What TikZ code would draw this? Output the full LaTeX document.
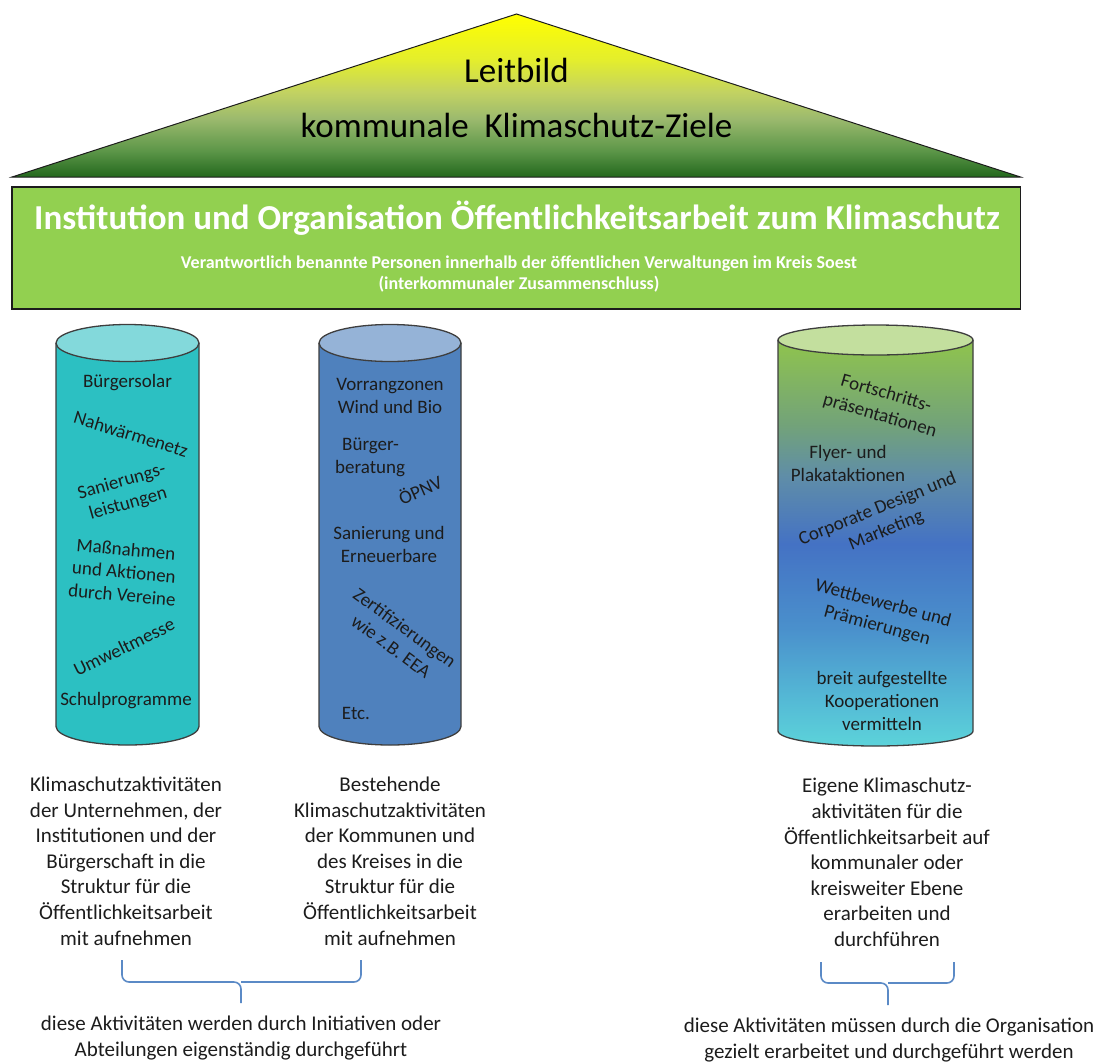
\documentclass[tikz,border=0pt]{standalone}
\usepackage{fontspec}
\setmainfont{Carlito}

% palette
\definecolor{roofTop}{HTML}{FFFF00}
\definecolor{roofA}{HTML}{E4EE2C}
\definecolor{roofB}{HTML}{C2D262}
\definecolor{roofC}{HTML}{9CBA6E}
\definecolor{roofD}{HTML}{5C9648}
\definecolor{roofE}{HTML}{23681D}
\definecolor{bannerGreen}{HTML}{92D050}
\definecolor{tealBody}{HTML}{2CC0C2}
\definecolor{tealTop}{HTML}{83D9DB}
\definecolor{blueBody}{HTML}{4F81BD}
\definecolor{blueTop}{HTML}{95B3D7}
\definecolor{mixTop}{HTML}{C3DF9E}
\definecolor{mixA}{HTML}{8CC052}
\definecolor{mixB}{HTML}{72A27A}
\definecolor{mixC}{HTML}{5F8DA8}
\definecolor{mixD}{HTML}{4472C4}
\definecolor{mixE}{HTML}{4A90CC}
\definecolor{mixF}{HTML}{55BCD6}
\definecolor{mixG}{HTML}{5CD3DA}
\definecolor{braceBlue}{HTML}{5B8AC6}
\definecolor{ink}{HTML}{1C1C1C}

% roof: dark green at the eaves, yellow at the ridge
\pgfdeclareverticalshading{roofshade}{100bp}{color(0bp)=(roofE); color(25bp)=(roofE);
  color(33bp)=(roofD); color(43bp)=(roofC); color(51bp)=(roofB); color(61bp)=(roofA);
  color(75bp)=(roofTop); color(100bp)=(roofTop)}
% third column: green - blue - cyan
\pgfdeclareverticalshading{mixshade}{100bp}{color(0bp)=(mixG); color(25bp)=(mixG);
  color(30bp)=(mixF); color(39bp)=(mixE); color(49bp)=(mixD); color(57bp)=(mixC);
  color(63bp)=(mixB); color(72bp)=(mixA); color(100bp)=(mixA)}

\tikzset{
  roofText/.style={font=\fontsize{35}{42}\selectfont, text=black, inner sep=0pt, anchor=base},
  colText/.style={font=\fontsize{19}{23}\selectfont, text=ink, align=center, inner sep=0pt},
  noteText/.style={font=\fontsize{21}{25.6}\selectfont, text=ink, align=center, inner sep=0pt},
  cylEdge/.style={draw=ink!85, line width=1.3pt},
  brace/.style={draw=braceBlue, line width=1.6pt, rounded corners=7pt},
}

\begin{document}
\begin{tikzpicture}[x=1pt,y=-1pt]
\useasboundingbox (0,0) rectangle (1100,1061);

% ---------- roof ----------
\coordinate (apex) at (516.5,14);
\coordinate (eaveL) at (12,177);
\coordinate (eaveR) at (1020.5,177);
\shade[shading=roofshade] (apex) -- (eaveR) -- (eaveL) -- cycle;
\draw[ink, line width=1pt, line join=miter] (apex) -- (eaveR) -- (eaveL) -- cycle;
\node (leitbild) [roofText] at (516.5,82) {Leitbild};
\node (ziele) [roofText] at (516.5,137) {kommunale\ \ Klimaschutz-Ziele};

% ---------- banner ----------
\node (banner) [rectangle, draw=ink, line width=1.6pt, fill=bannerGreen, inner sep=0pt,
  minimum width=1008.5pt, minimum height=122pt] at (516.25,248) {};
\node (title) [font=\bfseries\fontsize{35}{42}\selectfont, text=white, inner sep=0pt]
  at (517,218) {Institution und Organisation Öffentlichkeitsarbeit zum Klimaschutz};
\node (subtitle) [font=\bfseries\fontsize{18}{21}\selectfont, text=white, align=center, inner sep=0pt]
  at (519,274) {Verantwortlich benannte Personen innerhalb der öffentlichen Verwaltungen im Kreis Soest\\
  (interkommunaler Zusammenschluss)};

% ---------- column 1 (teal) ----------
\fill[tealBody] (56,343) -- (56,726.5) arc[start angle=180,end angle=0,x radius=71.5,y radius=18.5]
  -- (199,343) -- cycle;
\draw[cylEdge] (199,343) -- (199,726.5) arc[start angle=0,end angle=180,x radius=71.5,y radius=18.5] -- (56,343);
\draw[cylEdge, fill=tealTop] (127.5,343) ellipse[x radius=71.5, y radius=18.5];

\node (c1a) [colText] at (127.5,383) {Bürgersolar};
\node (c1b) [colText, rotate=-17] at (131,434) {Nahwärmenetz};
\node (c1c) [colText, rotate=16] at (125,493) {Sanierungs-\\leistungen};
\node (c1d) [colText, rotate=-5] at (124,572) {Maßnahmen\\und Aktionen\\durch Vereine};
\node (c1e) [colText, rotate=26] at (124,647) {Umweltmesse};
\node (c1f) [colText] at (126,701) {Schulprogramme};

% ---------- column 2 (blue) ----------
\fill[blueBody] (319,343) -- (319,726.5) arc[start angle=180,end angle=0,x radius=71,y radius=18.5]
  -- (461,343) -- cycle;
\draw[cylEdge] (461,343) -- (461,726.5) arc[start angle=0,end angle=180,x radius=71,y radius=18.5] -- (319,343);
\draw[cylEdge, fill=blueTop] (390,343) ellipse[x radius=71, y radius=18.5];

\node (c2a) [colText] at (390,396) {Vorrangzonen\\Wind und Bio};
\node (c2b) [colText, align=left, anchor=west] at (335,457) {\hspace{7pt}Bürger-\\beratung};
\node (c2c) [colText, rotate=24] at (420,489) {ÖPNV};
\node (c2d) [colText] at (389,544) {Sanierung und\\Erneuerbare};
\node (c2e) [colText, rotate=-36] at (398,637) {Zertifizierungen\\wie z.B. EEA};
\node (c2f) [colText] at (356,713) {Etc.};

% ---------- column 3 (green to blue) ----------
\shade[shading=mixshade] (778,340) -- (778,731) arc[start angle=180,end angle=0,x radius=97.5,y radius=15]
  -- (973,340) arc[start angle=0,end angle=-180,x radius=97.5,y radius=15] -- cycle;
\draw[cylEdge] (973,340) -- (973,731) arc[start angle=0,end angle=180,x radius=97.5,y radius=15] -- (778,340);
\draw[cylEdge, fill=mixTop] (875.5,340) ellipse[x radius=97.5, y radius=15];

\node (c3a) [colText, rotate=-16] at (883,405) {Fortschritts-\\präsentationen};
\node (c3b) [colText] at (848,463) {Flyer- und\\Plakataktionen};
\node (c3c) [colText, rotate=22] at (882,520) {Corporate Design und\\Marketing};
\node (c3d) [colText, rotate=-15] at (880,615) {Wettbewerbe und\\Prämierungen};
\node (c3e) [colText] at (882,701) {breit aufgestellte\\Kooperationen\\vermitteln};

% ---------- captions ----------
\node (n1) [noteText] at (126,861) {Klimaschutzaktivitäten\\der Unternehmen, der\\Institutionen und der\\Bürgerschaft in die\\Struktur für die\\Öffentlichkeitsarbeit\\mit aufnehmen};
\node (n2) [noteText] at (390,861) {Bestehende\\Klimaschutzaktivitäten\\der Kommunen und\\des Kreises in die\\Struktur für die\\Öffentlichkeitsarbeit\\mit aufnehmen};
\node (n3) [noteText] at (887,862.5) {Eigene Klimaschutz-\\aktivitäten für die\\Öffentlichkeitsarbeit auf\\kommunaler oder\\kreisweiter Ebene\\erarbeiten und\\durchführen};

% ---------- braces ----------
\coordinate (b1L) at (122,960);
\coordinate (b1R) at (361,960);
\coordinate (b1M) at (241,982);
\coordinate (b1T) at (241,1003);
\draw[brace] (b1L) -- (b1L |- b1M) -- (b1M) -- (b1T);
\draw[brace] (b1R) -- (b1R |- b1M) -- (b1M);

\coordinate (b2L) at (821,962);
\coordinate (b2R) at (954,962);
\coordinate (b2M) at (888,983);
\coordinate (b2T) at (888,1005);
\draw[brace] (b2L) -- (b2L |- b2M) -- (b2M) -- (b2T);
\draw[brace] (b2R) -- (b2R |- b2M) -- (b2M);

\node (s1) [noteText] at (241,1038) {diese Aktivitäten werden durch Initiativen oder\\Abteilungen eigenständig durchgeführt};
\node (s2) [noteText] at (889,1040) {diese Aktivitäten müssen durch die Organisation\\gezielt erarbeitet und durchgeführt werden};

\end{tikzpicture}
\end{document}
